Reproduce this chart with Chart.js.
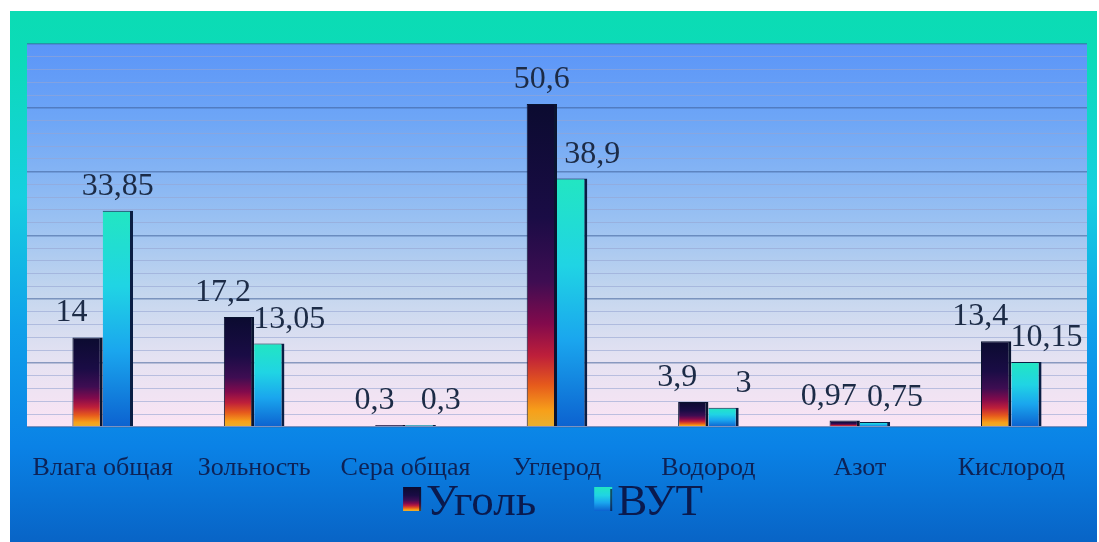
<!DOCTYPE html>
<html>
<head>
<meta charset="utf-8">
<script src="https://cdn.jsdelivr.net/npm/chart.js@4/dist/chart.umd.min.js"></script>
<style>
  html, body { margin: 0; padding: 0; background: #ffffff; }
  canvas { display: block; }
</style>
</head>
<body>
<canvas id="chart" width="1099" height="542"></canvas>
<script>
// Composition of coal and coal-water slurry, %
const categories = ['Влага общая', 'Зольность', 'Сера общая', 'Углерод', 'Водород', 'Азот', 'Кислород'];
const seriesNames = ['Уголь', 'ВУТ'];
const coalValues = [14, 17.2, 0.3, 50.6, 3.9, 0.97, 13.4];
const slurryValues = [33.85, 13.05, 0.3, 38.9, 3, 0.75, 10.15];

const SERIF = '"Liberation Serif", "Times New Roman", serif';

const coalStops = [
  [0, '#0b0b30'], [0.35, '#1a0c45'], [0.55, '#3e0d52'], [0.68, '#820a4c'],
  [0.78, '#be1f3a'], [0.87, '#e65a1c'], [0.95, '#f7a01a'], [1, '#e8b030']
];
const slurryStops = [
  [0, '#22e6c2'], [0.35, '#20d4e4'], [0.65, '#1aa6ee'], [1, '#0c62d0']
];

function fmt(v) { return String(v).replace('.', ','); }

function makeGradient(ctx, stops, top, bottom) {
  const g = ctx.createLinearGradient(0, top, 0, bottom);
  stops.forEach(([o, c]) => g.addColorStop(o, c));
  return g;
}

// each bar gets its own vertical gradient, from its top down to zero
function barFill(stops) {
  return function (c) {
    const chart = c.chart;
    if (!chart.chartArea || c.type !== 'data') return stops[Math.floor(stops.length / 2)][1];
    const y = chart.scales.y;
    const top = y.getPixelForValue(c.raw);
    const bottom = y.getPixelForValue(0);
    if (!(bottom - top > 0.5)) return stops[3][1];
    return makeGradient(chart.ctx, stops, top, bottom);
  };
}

const backdrop = {
  id: 'backdrop',
  beforeDraw(chart) {
    const ctx = chart.ctx;
    const a = chart.chartArea;
    ctx.save();
    // outer frame
    ctx.fillStyle = makeGradient(ctx, [
      [0, '#0bdcb4'], [0.08, '#0cdbb8'], [0.35, '#16cfe0'], [0.6, '#0fa0ea'],
      [0.82, '#0a82e6'], [1, '#0864c6']
    ], 11, 542);
    ctx.fillRect(10, 11, 1087, 531);
    // plot area
    ctx.fillStyle = makeGradient(ctx, [
      [0, '#5b95f8'], [0.2, '#6ea6f6'], [0.45, '#98c0f2'], [0.65, '#c4d6ee'],
      [0.82, '#e4e2f2'], [1, '#fbe4f4']
    ], a.top, a.bottom);
    ctx.fillRect(a.left, a.top, a.right - a.left, a.bottom - a.top);
    ctx.restore();
  }
};

const valueLabels = {
  id: 'valueLabels',
  afterDatasetsDraw(chart) {
    const ctx = chart.ctx;
    const m0 = chart.getDatasetMeta(0);
    const m1 = chart.getDatasetMeta(1);
    ctx.save();
    ctx.font = '32px ' + SERIF;
    ctx.fillStyle = '#1c2b46';
    ctx.textAlign = 'center';
    ctx.textBaseline = 'alphabetic';
    categories.forEach((_, i) => {
      const a = m0.data[i];
      const b = m1.data[i];
      // push the two labels apart when they would run into each other
      const clash = Math.abs(a.y - b.y) < 32;
      const dxA = (clash || b.y < a.y - 16) ? -16 : 0;
      const dxB = (clash || a.y < b.y - 16) ? 20 : 0;
      ctx.fillText(fmt(coalValues[i]), a.x + dxA, a.y - 16);
      ctx.fillText(fmt(slurryValues[i]), b.x + dxB, b.y - 16);
    });
    ctx.restore();
  }
};

// series key under the category labels
const seriesKey = {
  id: 'seriesKey',
  afterDraw(chart) {
    const ctx = chart.ctx;
    const a = chart.chartArea;
    const boxW = 18, boxH = 24, gap = 5, itemGap = 58;
    const baseline = 515;
    ctx.save();
    ctx.font = '45px ' + SERIF;
    const widths = seriesNames.map(n => ctx.measureText(n).width);
    const total = widths.reduce((s, w) => s + boxW + gap + w, 0) + itemGap * (seriesNames.length - 1);
    let x = (a.left + a.right) / 2 - 4 - total / 2;
    seriesNames.forEach((name, i) => {
      const top = baseline - 28;
      ctx.fillStyle = makeGradient(ctx, i === 0 ? coalStops : slurryStops, top, top + boxH);
      ctx.fillRect(x, top, boxW, boxH);
      ctx.fillStyle = 'rgba(10,20,50,0.7)';
      ctx.fillRect(x + boxW - 2, top + 2, 2, boxH - 2);
      x += boxW + gap;
      ctx.fillStyle = '#0a1a4e';
      ctx.textAlign = 'left';
      ctx.textBaseline = 'alphabetic';
      ctx.fillText(name, x, baseline);
      x += widths[i] + itemGap;
    });
    ctx.restore();
  }
};

new Chart(document.getElementById('chart'), {
  type: 'bar',
  data: {
    labels: categories,
    datasets: [
      {
        label: seriesNames[0],
        data: coalValues,
        backgroundColor: barFill(coalStops),
        borderColor: '#0a1430',
        borderWidth: { left: 1, right: 3, top: 1, bottom: 0 },
        borderSkipped: false
      },
      {
        label: seriesNames[1],
        data: slurryValues,
        backgroundColor: barFill(slurryStops),
        borderColor: '#0a1e44',
        borderWidth: { left: 0, right: 3, top: 1, bottom: 0 },
        borderSkipped: false
      }
    ]
  },
  options: {
    responsive: false,
    animation: false,
    devicePixelRatio: 1,
    categoryPercentage: 0.4,
    barPercentage: 1,
    layout: { padding: { left: 27, right: 12, top: 44, bottom: 40 } },
    plugins: {
      tooltip: { enabled: false },
      legend: { display: false }
    },
    scales: {
      x: {
        grid: { display: false },
        border: { display: false },
        ticks: {
          font: { family: SERIF, size: 26 },
          color: '#0d2256',
          padding: 18,
          maxRotation: 0,
          autoSkip: false
        }
      },
      y: {
        min: 0,
        max: 60,
        border: { display: false },
        grid: {
          drawTicks: false,
          color: c => (c.tick && c.tick.value % 10 === 0) ? 'rgba(60,92,150,0.55)' : 'rgba(150,165,210,0.6)',
          lineWidth: c => (c.tick && c.tick.value % 10 === 0) ? 1.5 : 1
        },
        ticks: { display: false, stepSize: 2 }
      }
    }
  },
  plugins: [backdrop, valueLabels, seriesKey]
});
</script>
</body>
</html>
